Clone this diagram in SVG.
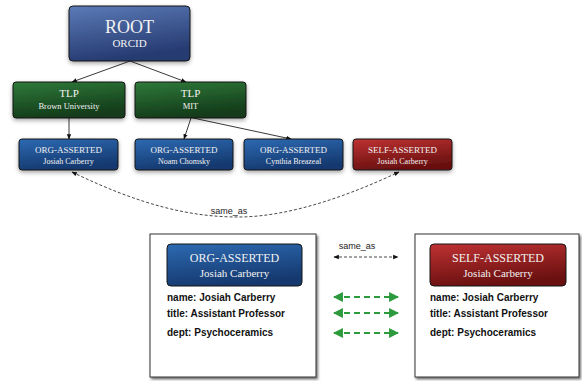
<svg xmlns="http://www.w3.org/2000/svg" width="582" height="381" viewBox="0 0 582 381">
<style>
.nt{font-family:"Liberation Serif","Times New Roman",serif;fill:#f2f2f2;text-anchor:middle}
.ft{font-family:"Liberation Sans",Arial,sans-serif;font-weight:bold;font-size:10px;fill:#111}
.lbl{font-family:"Liberation Sans",Arial,sans-serif;font-size:9px;fill:#222;text-anchor:middle}
.node{stroke:#151515;stroke-width:1}
.edge{stroke:#222;stroke-width:0.9;fill:none}
.dash{stroke:#333;stroke-width:0.9;fill:none;stroke-dasharray:3,2}
.gr{stroke:#2e9a3e;stroke-width:2.2;fill:none;stroke-dasharray:6,4}
.card{fill:#fff;stroke:#333;stroke-width:1}
</style>
<defs>
<linearGradient id="gRoot" x1="0" y1="0" x2="0.3" y2="1"><stop offset="0" stop-color="#5b7bb8"/><stop offset="1" stop-color="#263a70"/></linearGradient>
<linearGradient id="gTlp" x1="0" y1="0" x2="0.3" y2="1"><stop offset="0" stop-color="#2f7a3a"/><stop offset="1" stop-color="#133b1a"/></linearGradient>
<linearGradient id="gOrg" x1="0" y1="0" x2="0.3" y2="1"><stop offset="0" stop-color="#2d6ab2"/><stop offset="1" stop-color="#15396f"/></linearGradient>
<linearGradient id="gSelf" x1="0" y1="0" x2="0.3" y2="1"><stop offset="0" stop-color="#bf3232"/><stop offset="1" stop-color="#6a1010"/></linearGradient>
<filter id="sh" x="-20%" y="-20%" width="140%" height="150%"><feDropShadow dx="0" dy="2" stdDeviation="2" flood-color="#000" flood-opacity="0.35"/></filter>
<filter id="csh" x="-10%" y="-10%" width="120%" height="120%"><feDropShadow dx="1.5" dy="2" stdDeviation="1" flood-color="#000" flood-opacity="0.55"/></filter>
<marker id="ah" viewBox="0 0 10 10" refX="9" refY="5" markerWidth="6" markerHeight="6" orient="auto-start-reverse"><path d="M0,1 L10,5 L0,9 z" fill="#111"/></marker>
<marker id="ahg" viewBox="0 0 10 10" refX="9" refY="5" markerWidth="4.5" markerHeight="4.5" orient="auto-start-reverse"><path d="M0,0 L10,5 L0,10 z" fill="#2e9a3e"/></marker>
</defs>

<g id="connectors">
<line class="edge" x1="130" y1="61" x2="72" y2="82" marker-end="url(#ah)"/>
<line class="edge" x1="130" y1="61" x2="186" y2="82" marker-end="url(#ah)"/>
<line class="edge" x1="69" y1="118" x2="69" y2="139" marker-end="url(#ah)"/>
<line class="edge" x1="191" y1="118" x2="184" y2="139" marker-end="url(#ah)"/>
<line class="edge" x1="193" y1="118" x2="291" y2="139" marker-end="url(#ah)"/>
<path class="dash" d="M72,172 C140,205 190,217 238,217 C290,217 350,195 399,172" marker-start="url(#ah)" marker-end="url(#ah)"/>
<text class="lbl" x="229" y="214">same_as</text>
<line class="dash" x1="334" y1="257" x2="398" y2="257" marker-start="url(#ah)" marker-end="url(#ah)"/>
<text class="lbl" x="357" y="249">same_as</text>
<line class="gr" x1="334" y1="297" x2="398" y2="297" marker-start="url(#ahg)" marker-end="url(#ahg)"/>
<line class="gr" x1="334" y1="313" x2="398" y2="313" marker-start="url(#ahg)" marker-end="url(#ahg)"/>
<line class="gr" x1="334" y1="333" x2="398" y2="333" marker-start="url(#ahg)" marker-end="url(#ahg)"/>
</g>

<g id="root"><rect class="node" x="69" y="6" width="121" height="55" rx="4" fill="url(#gRoot)" filter="url(#sh)"/>
<text class="nt" x="129.5" y="33" font-size="18">ROOT</text><text class="nt" x="129.5" y="47" font-size="11">ORCID</text></g>

<g id="tlp-brown"><rect class="node" x="13" y="82" width="112" height="36" rx="3" fill="url(#gTlp)" filter="url(#sh)"/>
<text class="nt" x="69" y="97" font-size="11">TLP</text><text class="nt" x="69" y="109" font-size="8.5">Brown University</text></g>

<g id="tlp-mit"><rect class="node" x="135" y="82" width="111" height="36" rx="3" fill="url(#gTlp)" filter="url(#sh)"/>
<text class="nt" x="190.5" y="97" font-size="11">TLP</text><text class="nt" x="190.5" y="109" font-size="8.5">MIT</text></g>

<g id="org-josiah"><rect class="node" x="19" y="139" width="99" height="31" rx="3" fill="url(#gOrg)" filter="url(#sh)"/>
<text class="nt" x="68.5" y="153" font-size="9">ORG-ASSERTED</text><text class="nt" x="68.5" y="163.5" font-size="8">Josiah Carberry</text></g>

<g id="org-noam"><rect class="node" x="135" y="139" width="98" height="31" rx="3" fill="url(#gOrg)" filter="url(#sh)"/>
<text class="nt" x="184" y="153" font-size="9">ORG-ASSERTED</text><text class="nt" x="184" y="163.5" font-size="8">Noam Chomsky</text></g>

<g id="org-cynthia"><rect class="node" x="244" y="139" width="99" height="31" rx="3" fill="url(#gOrg)" filter="url(#sh)"/>
<text class="nt" x="293.5" y="153" font-size="9">ORG-ASSERTED</text><text class="nt" x="293.5" y="163.5" font-size="8">Cynthia Breazeal</text></g>

<g id="self-josiah"><rect class="node" x="353" y="139" width="99" height="31" rx="3" fill="url(#gSelf)" filter="url(#sh)"/>
<text class="nt" x="402.5" y="153" font-size="9">SELF-ASSERTED</text><text class="nt" x="402.5" y="163.5" font-size="8">Josiah Carberry</text></g>

<g id="card-org"><rect class="card" x="150" y="234" width="166" height="143" filter="url(#csh)"/>
<rect class="node" x="167" y="244" width="135" height="42" rx="4" fill="url(#gOrg)"/>
<text class="nt" x="234.5" y="262" font-size="12">ORG-ASSERTED</text><text class="nt" x="234.5" y="277" font-size="11">Josiah Carberry</text>
<text class="ft" x="167" y="301">name: Josiah Carberry</text>
<text class="ft" x="167" y="317">title: Assistant Professor</text>
<text class="ft" x="167" y="336">dept: Psychoceramics</text></g>

<g id="card-self"><rect class="card" x="415" y="234" width="164" height="143" filter="url(#csh)"/>
<rect class="node" x="430" y="244" width="136" height="42" rx="4" fill="url(#gSelf)"/>
<text class="nt" x="498" y="262" font-size="12">SELF-ASSERTED</text><text class="nt" x="498" y="277" font-size="11">Josiah Carberry</text>
<text class="ft" x="430" y="301">name: Josiah Carberry</text>
<text class="ft" x="430" y="317">title: Assistant Professor</text>
<text class="ft" x="430" y="336">dept: Psychoceramics</text></g>
</svg>
